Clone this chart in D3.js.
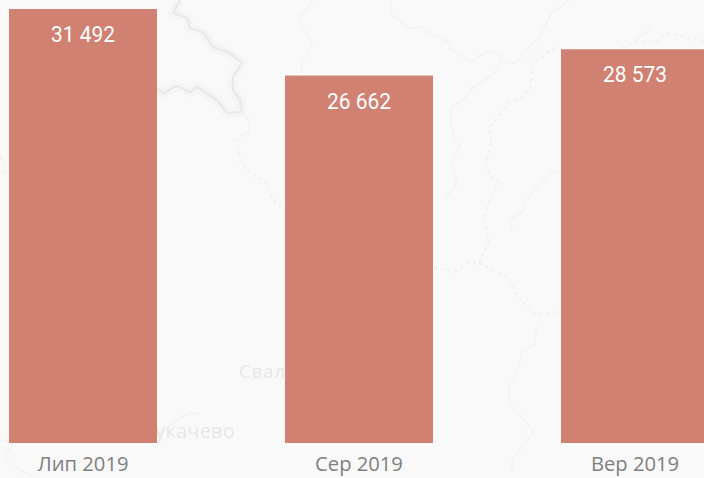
<!DOCTYPE html>
<html>
  <head>
    <meta charset="utf-8" />
    <title>Bar chart over map</title>
    <style>
      html, body { margin: 0; padding: 0; background: #f9f9f9; overflow: hidden; }
      svg { display: block; }
      .map-line { fill: none; stroke: #f3f3f3; stroke-width: 1.6px; stroke-linejoin: round; }
      .map-main { stroke: #e8e8e8; stroke-width: 2.2px; }
      .map-halo { stroke: #f5f5f5; stroke-width: 10px; }
      .map-dot { stroke: #f0f0f0; stroke-width: 2px; stroke-dasharray: 3 4; }
      .map-label { fill: #e6e6e6; font-family: "Open Sans", sans-serif; }
      .x-axis text { fill: #7f7f7f; font-family: "Open Sans", sans-serif; font-size: 20.2px; }
      .value { fill: #fff; font-family: Roboto, sans-serif; font-size: 22px; text-anchor: middle; }
    </style>
  </head>
  <body>
    <svg id="chart"></svg>
    <script src="https://d3js.org/d3.v7.min.js"></script>
    <script>
      const months = ["Лип 2019", "Сер 2019", "Вер 2019"];
      const values = [31492, 26662, 28573];
      const valueLabels = ["31 492", "26 662", "28 573"];

      // faint base map, in map pixels
      const borderMain = [[180,0],[173,13],[187,18],[190,28],[203,32],[213,47],[230,53],[242,63],[233,77],[233,90],[240,100],[242,112],[227,113],[217,100],[197,87],[190,92],[177,86],[163,93],[157,88]];
      const riverA = [[390,0],[392,15],[409,28],[422,27],[432,35],[449,42],[452,50],[472,62],[485,52],[499,53],[502,62],[515,63],[525,52],[539,37],[552,13],[569,0]];
      const riverB = [[500,63],[495,73],[472,88],[465,98],[452,107],[450,120],[455,140],[460,145],[452,163],[457,183],[445,200]];
      const riverC = [[537,327],[534,345],[522,352],[519,367],[509,387],[509,403],[534,432],[512,460],[512,470]];
      const riverD = [[560,173],[552,172],[534,190],[524,203],[524,210],[510,220],[512,230]];
      const riverE = [[313,0],[298,20],[312,43],[302,63],[302,73]];
      const riverF = [[160,433],[173,423],[190,412],[200,415]];
      const riverG = [[0,440],[13,443],[5,457],[20,470],[33,477]];
      const riverH = [[635,40],[652,28]];
      const dottedA = [[242,112],[247,117],[250,130],[237,140],[240,160],[247,170],[267,183],[273,200],[283,208]];
      const dottedB = [[555,48],[534,62],[530,87],[522,98],[509,103],[489,128],[492,143],[485,163],[492,178],[502,182],[492,193],[484,217],[489,240],[479,263],[467,263],[455,272],[434,267]];
      const dottedC = [[479,263],[509,278],[515,293],[535,315],[552,313],[560,312]];
      const dottedD = [[622,48],[635,42],[655,42],[669,33],[704,42]];
      const dottedE = [[0,157],[7,177]];
      const mapLabels = [
        { name: "Мукачево", x: 235, y: 438, size: 20, spacing: 0.2, anchor: "end" },
        { name: "Свалява", x: 239, y: 378, size: 18.5, spacing: 1, anchor: "start" },
      ];

      const width = 704;
      const height = 478;
      const margin = { top: 9, right: -5, bottom: 35, left: 9 };

      const xScale = d3
        .scaleBand()
        .domain(months)
        .range([margin.left, width - margin.right])
        .paddingInner(128 / 276)
        .paddingOuter(0);

      const yScale = d3
        .scaleLinear()
        .domain([0, d3.max(values)])
        .range([height - margin.bottom, margin.top]);

      const svg = d3.select("#chart").attr("width", width).attr("height", height);

      svg
        .append("filter")
        .attr("id", "soft")
        .append("feGaussianBlur")
        .attr("stdDeviation", 0.6);

      const mapLine = d3.line();
      const map = svg.append("g").attr("filter", "url(#soft)");

      map.append("path").attr("class", "map-line map-halo").attr("d", mapLine(borderMain));
      map.append("path").attr("class", "map-line map-main").attr("d", mapLine(borderMain));
      [riverA, riverB, riverC, riverD, riverE, riverF, riverG, riverH].forEach((d) => {
        map.append("path").attr("class", "map-line").attr("d", mapLine(d));
      });
      [dottedA, dottedB, dottedC, dottedD, dottedE].forEach((d) => {
        map.append("path").attr("class", "map-line map-dot").attr("d", mapLine(d));
      });
      map
        .selectAll("text")
        .data(mapLabels)
        .join("text")
        .attr("class", "map-label")
        .attr("x", (d) => d.x)
        .attr("y", (d) => d.y)
        .attr("font-size", (d) => d.size)
        .attr("letter-spacing", (d) => d.spacing)
        .attr("text-anchor", (d) => d.anchor)
        .text((d) => d.name);

      svg
        .append("g")
        .selectAll("rect")
        .data(values)
        .join("rect")
        .attr("x", (d, i) => xScale(months[i]))
        .attr("y", (d) => yScale(d))
        .attr("width", xScale.bandwidth())
        .attr("height", (d) => yScale(0) - yScale(d))
        .attr("fill", "#d08172");

      // squeezed to the width of the narrow face used in the original
      svg
        .append("g")
        .selectAll("text")
        .data(values)
        .join("text")
        .attr("class", "value")
        .attr("x", (d, i) => xScale(months[i]) + xScale.bandwidth() / 2)
        .attr("y", (d) => yScale(d) + 33)
        .attr("textLength", 64)
        .attr("lengthAdjust", "spacingAndGlyphs")
        .text((d, i) => valueLabels[i]);

      const xAxis = svg
        .append("g")
        .attr("class", "x-axis")
        .attr("transform", `translate(0,${height - margin.bottom})`)
        .call(d3.axisBottom(xScale).tickSize(0).tickPadding(14));
      xAxis.select(".domain").remove();
    </script>
  </body>
</html>
